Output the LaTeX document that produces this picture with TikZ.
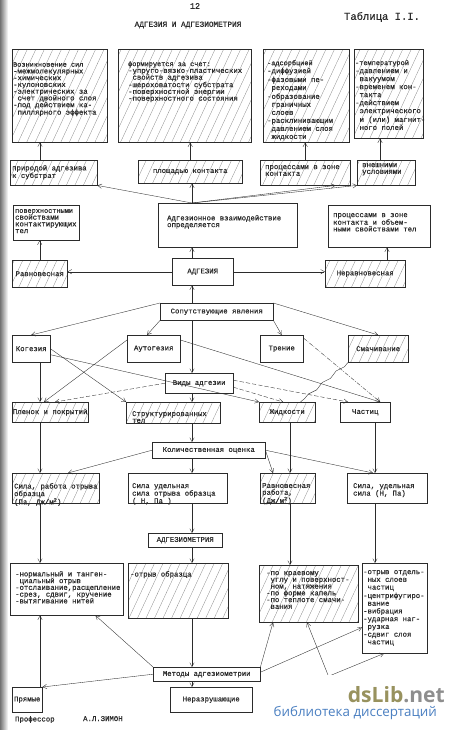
\documentclass[tikz,border=0pt]{standalone}
\usepackage{fontspec}
\newfontfamily\tw[FakeBold=0.6]{Liberation Mono}
\newfontfamily\wmf{Open Sans}
\usepackage{tikz}
\usetikzlibrary{calc,arrows.meta,patterns.meta,decorations.pathmorphing}
\definecolor{inkc}{HTML}{2B2B2B}
\definecolor{hatchc}{HTML}{7A7A7A}
\definecolor{olivec}{HTML}{98925E}
\definecolor{greyc}{HTML}{8E8E8E}
\definecolor{bluec}{HTML}{4A7FC1}
\tikzset{
  ar/.style={-{Straight Barb[length=2mm,width=2.2mm]},line width=0.5pt,inkc},
  dar/.style={ar,dash pattern=on 6pt off 3pt},
  ddar/.style={ar,dash pattern=on 6pt off 2pt on 1pt off 2pt},
  box/.style={draw=inkc,line width=0.6pt,inner sep=1pt,font=\tw\fontsize{10.4}{9.6}\selectfont,text=inkc,align=center},
  hbox/.style={box,pattern={Lines[angle=65,distance=11pt,line width=0.35pt]},pattern color=hatchc},
  txt/.style={inner sep=0pt,font=\tw\fontsize{10.4}{9.6}\selectfont,text=inkc,align=left,anchor=north west}
}
\newcommand{\ind}{\hphantom{-}}
\newcommand{\sm}{\fontsize{9.8}{9.4}\selectfont}
% box with centred text
\newcommand{\cbx}[7]{\node[#1,anchor=north west,minimum width={(#5-#3)*0.5mm},minimum height={(#6-#4)*0.5mm}] (#2) at (#3,#4) {#7};}
% box with text set from its top left corner
\newcommand{\tbx}[9]{\node[#1,anchor=north west,minimum width={(#5-#3)*0.5mm},minimum height={(#6-#4)*0.5mm}] (#2) at (#3,#4) {};
  \node[txt] (#2t) at ($(#2.north west)+(#7,#8)$) {#9};}

\begin{document}
\begin{tikzpicture}[x=0.5mm,y=-0.5mm]
\useasboundingbox (0,0) rectangle (450,730);
\fill[white] (0,0) rectangle (450,730);
\shade[left color=black!55,right color=white] (0,0) rectangle (8,730);
\coordinate (ax) at (192,0);
% heading
\node[font=\tw\fontsize{12}{12}\selectfont,text=inkc] (pg) at (195,6) {12};
\node[font=\tw\fontsize{11}{11}\selectfont,text=inkc] (ttl) at (188,25) {АДГЕЗИЯ И АДГЕЗИОМЕТРИЯ};
\node[font=\tw\fontsize{15}{15}\selectfont,text=inkc] (tab) at (382,17) {Таблица I.I.};
% first row
\tbx{hbox}{A1}{12}{49}{107}{142}{1}{13}{\sm Возникновение сил\\-межмолекулярных\\-химических\\-кулоновских\\-электрических за\\\ind счет двойного слоя\\-под действием ка-\\\ind пиллярного эффекта}
\tbx{hbox}{A2}{118}{49}{251}{142}{10}{12}{\sm формируется за счет:\\-упруго-вязко-пластических\\\ind свойств адгезива\\-шероховатости субстрата\\-поверхностной энергии\\-поверхностного состояния}
\tbx{hbox}{A3}{263}{49}{349}{142}{4}{11}{\sm -адсорбцией\\[1.8pt]-диффузией\\[1.8pt]-фазовыми пе-\\[1.8pt]\ind реходами\\[1.8pt]-образование\\[1.8pt]\ind граничных\\[1.8pt]\ind слоев\\[1.8pt]-расклинивающим\\[1.8pt]\ind давлением слоя\\[1.8pt]\ind жидкости}
\tbx{hbox}{A4}{354}{49}{423}{138}{1}{11}{\sm -температурой\\[1.8pt]-давлением и\\[1.8pt]\ind вакуумом\\[1.8pt]-временем кон-\\[1.8pt]\ind такта\\[1.8pt]-действием\\[1.8pt]\ind электрического\\[1.8pt]\ind и (или) магнит-\\[1.8pt]\ind ного полей}
% second row
\tbx{hbox}{B1}{10}{160}{97}{185}{2}{5}{природой адгезива\\к субстрат}
\cbx{hbox}{B2}{138}{160}{242}{183}{площадью контакта}
\tbx{hbox}{B3}{260}{160}{350}{185}{5}{5}{процессами в зоне\\контакта}
\tbx{hbox}{B4}{357}{160}{415}{185}{5}{3}{внешними\\условиями}
% third row
\tbx{box}{C1}{13}{205}{79}{240}{2}{4}{\sm поверхностными\\свойствами\\контактирующих\\тел}
\tbx{box}{C2}{158}{203}{297}{247}{9}{12}{Адгезионное взаимодействие\\определяется}
\tbx{box}{C3}{328}{205}{430}{247}{5}{8}{процессами в зоне\\контакта и объем-\\ными свойствами тел}
% adhesion
\cbx{hbox}{D1}{12}{260}{67}{287}{Равновесная}
\cbx{box}{D2}{172}{258}{233}{285}{АДГЕЗИЯ}
\cbx{hbox}{D3}{325}{260}{405}{287}{Неравновесная}
\cbx{box}{E}{160}{303}{273}{320}{Сопутствующие явления}
\cbx{box}{F1}{12}{335}{50}{362}{Когезия}
\cbx{box}{F2}{127}{335}{180}{362}{Аутогезия}
\cbx{box}{F3}{260}{335}{303}{362}{Трение}
\cbx{hbox}{F4}{348}{335}{408}{362}{Смачивание}
\cbx{box}{G}{165}{373}{233}{393}{Виды адгезии}
\cbx{hbox}{H1}{12}{402}{88}{422}{Пленок и покрытий}
\tbx{hbox}{H2}{126}{402}{220}{423}{6}{9}{Структурированных\\тел}
\cbx{hbox}{H3}{259}{402}{315}{422}{Жидкости}
\cbx{box}{H4}{340}{402}{390}{422}{Частиц}
% quantities
\cbx{box}{I}{152}{442}{265}{458}{Количественная оценка}
\tbx{hbox}{J1}{12}{473}{99}{503}{2}{10}{Сила, работа отрыва\\образца\\(Па, Дж/м\textsuperscript{2})}
\tbx{box}{J2}{128}{473}{227}{503}{4}{10}{Сила удельная\\сила отрыва образца\\( Н, Па )}
\tbx{hbox}{J3}{260}{473}{315}{503}{2}{10}{Равновесная\\работа,\\(Дж/м\textsuperscript{2})}
\tbx{box}{J4}{347}{473}{427}{503}{6}{10}{Сила, удельная\\сила (Н, Па)}
\cbx{box}{K}{148}{533}{222}{547}{АДГЕЗИОМЕТРИЯ}
\tbx{box}{L1}{10}{563}{123}{615}{5}{8}{-нормальный и танген-\\\ind циальный отрыв\\-отслаивание,расщепление\\-срез, сдвиг, кручение\\-вытягивание нитей}
\tbx{hbox}{L2}{128}{563}{228}{618}{2}{8}{-отрыв образца}
\tbx{hbox}{L3}{259}{565}{358}{622}{7}{6}{-по краевому\\\ind углу и поверхност-\\\ind ном, натяжения\\-по форме капель\\-по теплоте смачи-\\\ind вания}
\tbx{box}{L4}{362}{563}{427}{653}{1}{7}{-отрыв отдель-\\[1.4pt]\ind ных слоев\\[1.4pt]\ind частиц\\[1.4pt]-центрифугиро-\\[1.4pt]\ind вание\\[1.4pt]-вибрация\\[1.4pt]-ударная наг-\\[1.4pt]\ind рузка\\[1.4pt]-сдвиг слоя\\[1.4pt]\ind частиц}
\cbx{box}{M}{153}{667}{260}{681}{Методы адгезиометрии}
\cbx{box}{N1}{12}{687}{42}{712}{Прямые}
\cbx{box}{N2}{170}{687}{252}{712}{Неразрушающие}
% connectors, top part
\draw[ar] ($(B1.north west)+(30,0)$) -- ($(A1.south west)+(28,0)$);
\draw[ar] (B2.north) -- (B2.north |- A2.south);
\draw[ar] (B3.north) -- (B3.north |- A3.south);
\draw[ar] ($(B4.north west)+(23,0)$) -- ($(A4.south west)+(26,0)$);
\draw[ar] (ax |- C2.north) -- (B1.south east);
\draw[ar] (ax |- C2.north) -- (ax |- B2.south);
\draw[ar] (ax |- C2.north) -- ($(B3.south east)+(-15,0)$);
\draw[ar] (ax |- C2.north) -- (B4.south west);
\draw[ar] (D2.west) -- (D2.west -| D1.east);
\draw[ar] (D2.east) -- (D2.east -| D3.west);
\draw[ar] (D1.north) -- (D1.north |- C1.south);
\draw[ar] (ax |- D2.north) -- (ax |- C2.south);
\draw[ar] ($(D3.north west)+(62,0)$) -- ($(C3.south west)+(59,0)$);
\draw[ar] (ax |- E.north) -- (ax |- D2.south);
% accompanying effects and kinds
\draw[ar] (E.north west) -- (F1.north);
\draw[ar] (E.south west) -- ($(F2.north west)+(20,0)$);
\draw[ar] (E.south east) -- (F3.north);
\draw[ar] (E.north east) -- (F4.north);
\draw[ar] (ax |- E.south) -- (ax |- G.north);
\draw[ar] ($(F1.south west)+(28,0)$) -- ($(H1.north west)+(28,0)$);
\draw[ar] (F1.east) -- (H2.north west);
\draw[ar] ($(F1.east)+(0,6)$) -- (H3.north west);
\draw[ar] ($(F2.north west)+(0,5)$) -- ($(H1.north west)+(32,0)$);
\draw[ar] ($(F2.north east)+(0,5)$) -- ($(H4.north)+(15,0)$);
\draw[ddar] ($(F3.north east)+(0,3)$) -- ($(H4.north)+(15,0)$);
\draw[inkc,line width=0.5pt,decorate,decoration={snake,amplitude=1.5pt,segment length=9mm}] (F4.south west) -- ($(H3.north east)+(-15,0)$);
\draw[dar] (G.west) -- ($(H1.north west)+(43,0)$);
\draw[dar] ($(G.east)+(0,4)$) -- ($(H3.north west)+(24,0)$);
\draw[dar] ($(G.east)+(0,-3)$) -- ($(H4.north west)+(8,0)$);
\draw[ar] (ax |- G.south) -- (ax |- H2.north);
% quantities
\draw[ar] (ax |- H2.south) -- (ax |- I.north);
\draw[ar] ($(H1.south west)+(28,0)$) -- ($(J1.north west)+(28,0)$);
\draw[ar] (I.west) -- ($(J1.north west)+(56,0)$);
\draw[ar] (ax |- I.south) -- (ax |- J2.north);
\draw[ar] (I.east) -- ($(J3.north west)+(13,0)$);
\draw[ar] (I.east) -- ($(J4.north west)+(26,0)$);
\draw[ar] ($(H3.south west)+(31,0)$) -- ($(J3.north west)+(30,0)$);
\draw[ar] ($(H4.south west)+(35,0)$) -- ($(J4.north west)+(28,0)$);
\draw[ar] ($(J1.south west)+(28,0)$) -- ($(L1.north west)+(30,0)$);
\draw[ar] (ax |- J2.south) -- (ax |- K.north);
\draw[ar] (ax |- K.south) -- (ax |- L2.north);
\draw[ar] ($(J3.south west)+(30,0)$) -- ($(L3.north west)+(31,0)$);
\draw[ar] ($(J4.south west)+(28,0)$) -- ($(L4.north west)+(13,0)$);
% methods
\draw[ar] (ax |- L2.south) -- (ax |- M.north);
\draw[ar] (ax |- M.south) -- (ax |- N2.north);
\draw[ar] (M.north west) -- ($(L1.south east)+(-28,0)$);
\draw[ar] (M.west) -- (N1.north east);
\draw[ar] ($(N1.north west)+(28,0)$) -- ($(L1.south west)+(30,0)$);
\draw[ar] (M.north east) -- ($(L3.south west)+(14,0)$);
\draw[ar] ($(M.east)+(0,-2)$) -- ($(L4.south west)+(0,-26)$);
\coordinate (hd1) at (334,690);
\coordinate (hd2) at (300,688);
\draw[ar] (hd1) -- ($(L3.south west)+(48,0)$);
\draw[ar] (hd2) -- ($(L4.south west)+(22,0)$);
% footer
\node[txt] (prof) at (15,716) {Профессор};
\node[txt] (sign) at (83,716) {А.Л.ЗИМОН};
% watermark
\fill[white] (263,675) rectangle (447,730);
\node[anchor=base east,font=\wmf\bfseries\fontsize{30}{30}\selectfont,text=olivec,inner sep=0pt] (wm) at (445,702) {dsLib\textcolor{greyc}{.net}};
\node[anchor=base east,font=\wmf\fontsize{19}{19}\selectfont,text=bluec,inner sep=0pt] (wmb) at (437,716) {библиотека диссертаций};
\end{tikzpicture}
\end{document}
